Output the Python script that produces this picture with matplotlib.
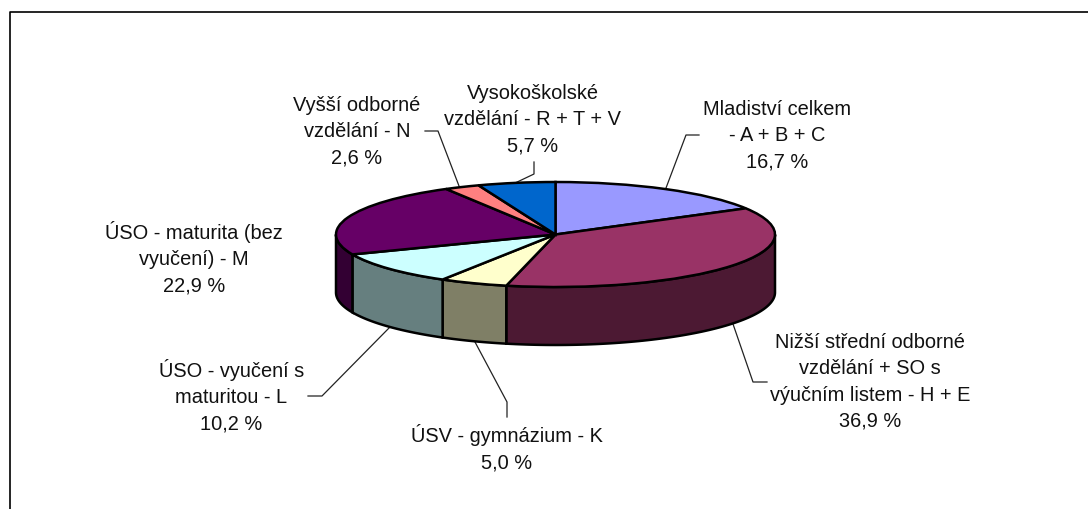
import numpy as np
import matplotlib
matplotlib.use('Agg')
import matplotlib.pyplot as plt
from matplotlib.patches import Polygon

plt.rcParams['font.family'] = ['Liberation Sans', 'DejaVu Sans']

########################### data ################################
labels = ['Mladiství celkem\n- A + B + C\n16,7 %',
          'Nižší střední odborné\nvzdělání + SO s\nvýučním listem - H + E\n36,9 %',
          'ÚSV - gymnázium - K\n5,0 %',
          'ÚSO - vyučení s\nmaturitou - L\n10,2 %',
          'ÚSO - maturita (bez\nvyučení) - M\n22,9 %',
          'Vyšší odborné\nvzdělání - N\n2,6 %',
          'Vysokoškolské\nvzdělání - R + T + V\n5,7 %']
values = [16.7, 36.9, 5.0, 10.2, 22.9, 2.6, 5.7]
top_colors = ['#9999FF', '#993366', '#FFFFCC', '#CCFFFF', '#660066', '#FF8080', '#0066CC']
side_colors = ['#4C4C7F', '#4C1933', '#7F7F66', '#667F7F', '#330033', '#7F4040', '#003366']

# layout in pixels of the picture
W, H = 1088, 510
cx, cy, rx, ry, depth = 555.5, 235.5, 219.5, 52.5, 58

label_pos = [(777, 136), (870, 382), (507, 448), (231.5, 396), (194, 258.5), (357, 131.5), (533, 119.5)]
leaders = [[(699, 136), (686, 136), (666, 189)],
           [(767, 383), (753, 383), (733, 325)],
           [(507, 418), (507, 403), (475, 343)],
           [(308, 397), (322, 397), (390, 328)],
           [(425, 132), (438, 132), (459, 187)],
           [(534, 163), (534, 175), (513, 185)]]

fig = plt.figure(figsize=(W / 100, H / 100), dpi=100)

# background axes in pixel coordinates, for frame, leaders and labels
bg = fig.add_axes([0, 0, 1, 1])
bg.set_xlim(0, W)
bg.set_ylim(H, 0)
bg.axis('off')
bg.plot([9.5, 9.5, W], [H, 12.5, 12.5], color='black', lw=1.2, zorder=1)

for pts in leaders:
    xs, ys = zip(*pts)
    bg.plot(xs, ys, color='#222222', lw=0.9, zorder=2)

# pie axes: x and y run in units of the radius, the depth hangs under the ellipse
ax = fig.add_axes([(cx - rx) / W, 1 - (cy + ry + depth) / H, 2 * rx / W, (2 * ry + depth) / H])
ax.patch.set_alpha(0)
ax.axis('off')
d = depth / ry

# walls first, front part of the rim only
edges = np.cumsum([0] + values) / sum(values) * 2 * np.pi
for i in range(len(values)):
    a0 = max(edges[i], np.pi / 2)
    a1 = min(edges[i + 1], 3 * np.pi / 2)
    if a1 <= a0:
        continue
    t = np.linspace(a0, a1, 80)
    x = np.sin(t)
    y = np.cos(t)
    pts = np.r_[np.c_[x, y], np.c_[x[::-1], y[::-1] - d]]
    ax.add_patch(Polygon(pts, closed=True, facecolor=side_colors[i], edgecolor='black', lw=1.8, clip_on=False))

wedges, _ = ax.pie(values, colors=top_colors, startangle=90, counterclock=False, radius=1,
                   wedgeprops={'edgecolor': 'black', 'linewidth': 1.8, 'clip_on': False})
ax.set_aspect('auto')
ax.set_xlim(-1, 1)
ax.set_ylim(-1 - d, 1)

for text, (x, y) in zip(labels, label_pos):
    bg.text(x, y, text, ha='center', va='center', fontsize=14.4, color='#111111',
            linespacing=1.47, zorder=3)

fig.savefig('out.png', dpi=100)
